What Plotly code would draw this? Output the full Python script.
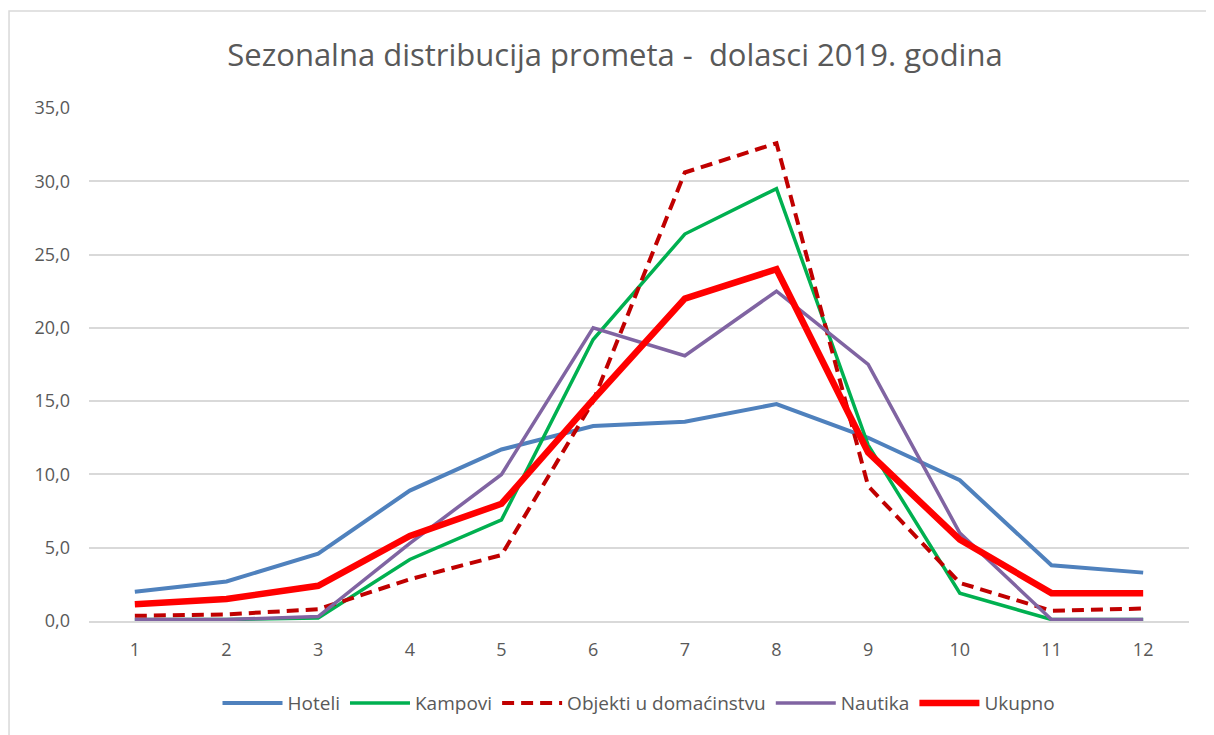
import plotly.graph_objects as go

months = ["1", "2", "3", "4", "5", "6", "7", "8", "9", "10", "11", "12"]
hoteli = [2.0, 2.7, 4.6, 8.9, 11.7, 13.3, 13.6, 14.8, 12.5, 9.6, 3.8, 3.3]
kampovi = [0.1, 0.1, 0.2, 4.2, 6.9, 19.2, 26.4, 29.5, 12.0, 1.9, 0.1, 0.1]
objekti = [0.35, 0.45, 0.8, 2.85, 4.5, 15.0, 30.6, 32.6, 9.2, 2.6, 0.7, 0.85]
nautika = [0.1, 0.1, 0.3, 5.3, 10.0, 20.0, 18.1, 22.5, 17.5, 6.0, 0.1, 0.1]
ukupno = [1.15, 1.5, 2.4, 5.8, 8.0, 15.1, 22.0, 24.0, 11.5, 5.55, 1.9, 1.9]

series = [
    ("Hoteli", hoteli, "#4F81BD", 4, "solid"),
    ("Kampovi", kampovi, "#00B050", 3.5, "solid"),
    ("Objekti u domaćinstvu", objekti, "#C00000", 4, "12px,7px"),
    ("Nautika", nautika, "#8064A2", 3.5, "solid"),
    ("Ukupno", ukupno, "#FF0000", 6.5, "solid"),
]

fig = go.Figure()
for name, vals, color, width, dash in series:
    fig.add_trace(go.Scatter(
        x=months, y=vals, name=name, mode="lines",
        line=dict(color=color, width=width, dash=dash),
    ))

font_family = "Open Sans, Liberation Sans, sans-serif"
fig.update_layout(
    width=1214, height=735,
    paper_bgcolor="white", plot_bgcolor="white",
    margin=dict(l=81, r=33, t=100, b=122),
    separators=", ",
    title=dict(
        text="Sezonalna distribucija prometa -  dolasci 2019. godina",
        x=0.5, xanchor="center", y=0.936, yanchor="middle",
        font=dict(family=font_family, size=31, color="#595959"),
    ),
    xaxis=dict(
        type="category", showgrid=False, showline=True,
        linecolor="#D9D9D9", linewidth=1.5, ticks="",
        ticklabelstandoff=12,
        tickfont=dict(family=font_family, size=18, color="#595959"),
        range=[-0.5, 11.5],
    ),
    yaxis=dict(
        range=[0, 35], dtick=5, tickformat=".1f",
        showgrid=True, gridcolor="#D9D9D9", gridwidth=1.5,
        zeroline=False, showline=False, ticks="",
        ticklabelstandoff=18,
        tickfont=dict(family=font_family, size=18, color="#595959"),
    ),
    legend=dict(
        orientation="h", x=0.5, xanchor="center", y=-0.16, yanchor="middle",
        font=dict(family=font_family, size=19, color="#595959"),
        itemwidth=60,
    ),
    showlegend=True,
)

fig.add_shape(
    type="rect", xref="paper", yref="paper",
    x0=-0.0727, x1=1.03, y0=-0.235, y1=1.189,
    line=dict(color="#D9D9D9", width=1.5), fillcolor="rgba(0,0,0,0)",
    layer="below",
)

fig.write_html("out.html")
